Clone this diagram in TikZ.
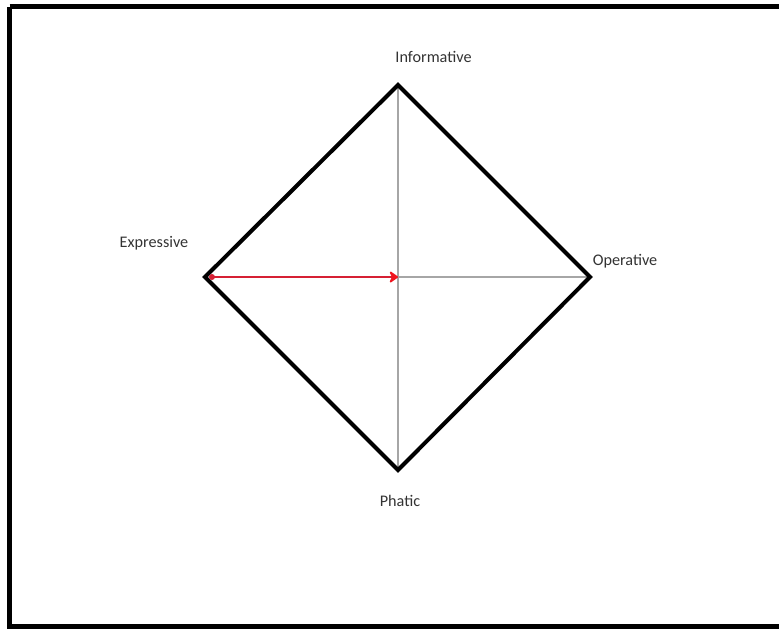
\documentclass[tikz,border=0pt]{standalone}
\usepackage{fontspec}
\setmainfont{Carlito}
\usepackage{xcolor}
\usetikzlibrary{arrows.meta}
\definecolor{arrowred}{RGB}{214,32,52}
\definecolor{tipred}{RGB}{240,20,30}

\begin{document}
\begin{tikzpicture}[
x=0.5pt, y=-0.5pt,
lbl/.style={font=\fontsize{8.1}{10}\selectfont, text=black!80, inner sep=0pt},
frame/.style={draw, line width=2.5pt},
edge/.style={draw, line width=2pt, line join=miter},
axis/.style={draw=black!35, line width=0.75pt},
arr/.style={draw=arrowred, line width=1.2pt, -{Stealth[length=5pt, width=7pt, color=tipred, round]}}
]
\useasboundingbox (0,0) rectangle (779,628);
\draw[frame] (9.5,6.5) -- (800,6.5) (9.5,6.5) -- (9.5,626.5) -- (800,626.5);

\coordinate (inf) at (398,85);
\coordinate (exp) at (205,277);
\coordinate (ope) at (590,277);
\coordinate (pha) at (398,470);
\coordinate (ctr) at (398,277);

\draw[axis] (inf) -- (pha);
\draw[axis] (ctr) -- (ope);
\draw[edge] (inf) -- (ope) -- (pha) -- (exp) -- cycle;

\node[lbl] (infl) at (433.5,57) {Informative};
\node[lbl] (expl) at (154,243) {Expressive};
\node[lbl] (opel) at (625,261) {Operative};
\node[lbl] (phal) at (400,501) {Phatic};

\coordinate (start) at (212,277);
\fill[arrowred] (start) circle (3);
\draw[arr] (start) -- (ctr);
\end{tikzpicture}
\end{document}
